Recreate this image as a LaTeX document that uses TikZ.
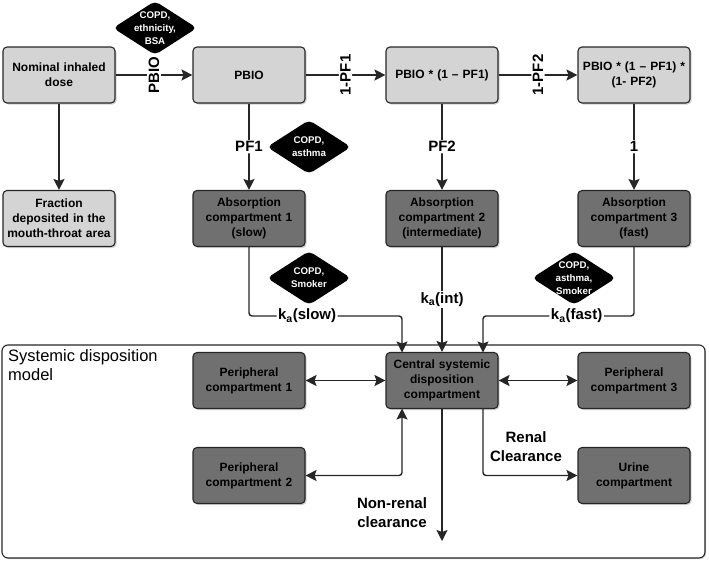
\documentclass[tikz,border=0pt]{standalone}
\usepackage{fontspec}
\setmainfont{Liberation Sans}
\usetikzlibrary{shapes.geometric,arrows.meta,shadows}
\definecolor{lineC}{RGB}{38,38,38}
\definecolor{lightC}{RGB}{212,212,212}
\definecolor{darkC}{RGB}{112,112,112}
\begin{document}
\begin{tikzpicture}[x=1pt,y=-1pt,
  base/.style={draw=lineC, line width=1.1pt, rounded corners=4pt, minimum width=112pt, minimum height=56pt,
    text width=110pt, align=center, inner sep=0pt, font=\bfseries\fontsize{12}{15}\selectfont,
    drop shadow={shadow xshift=1.5pt, shadow yshift=-1.5pt, opacity=0.35}},
  lightbox/.style={base, fill=lightC},
  darkbox/.style={base, fill=darkC},
  diam/.style={diamond, fill=black, rounded corners=5pt, minimum width=84pt, minimum height=54pt, inner sep=0pt},
  difftext/.style={text=white, font=\bfseries\fontsize{9.7}{12.8}\selectfont, align=center},
  conn/.style={draw=lineC, line width=1.4pt, -{Stealth[length=11pt,width=11pt,inset=2pt]}, rounded corners=3pt},
  conn2/.style={draw=lineC, line width=1.4pt, {Stealth[length=11pt,width=11pt,inset=2pt]}-{Stealth[length=11pt,width=11pt,inset=2pt]}, rounded corners=3pt},
  lbl/.style={fill=white, inner sep=1.5pt, font=\bfseries\fontsize{15}{18}\selectfont},
  freetext/.style={font=\bfseries\fontsize{15}{19}\selectfont, align=center},
  sysbox/.style={draw=lineC, line width=1.1pt, rounded corners=6pt, fill=white, minimum width=703pt, minimum height=213pt,
    drop shadow={shadow xshift=1.2pt, shadow yshift=-1.2pt, opacity=0.3}}
]
\useasboundingbox (0,0) rectangle (709,562);

% systemic disposition frame
\node[sysbox] (sys) at (353.5,451.5) {};
\node[anchor=north west, align=left, font=\fontsize{16.5}{19}\selectfont, inner sep=0pt] (systxt) at (8,349) {Systemic disposition\\model};

% top row
\node[lightbox] (nom) at (59,75) {Nominal inhaled\\dose};
\node[lightbox] (pbio) at (249,75) {PBIO};
\node[lightbox] (p1) at (442,75) {PBIO * (1 – PF1)};
\node[lightbox] (p2) at (634,75) {PBIO * (1 – PF1) *\\(1- PF2)};

% second row
\node[lightbox] (frac) at (59,218.5) {Fraction\\deposited in the\\mouth-throat area};
\node[darkbox] (abs1) at (249,218.5) {Absorption\\compartment 1\\(slow)};
\node[darkbox] (abs2) at (442,218.5) {Absorption\\compartment 2\\(intermediate)};
\node[darkbox] (abs3) at (634,218.5) {Absorption\\compartment 3\\(fast)};

% systemic compartments
\node[darkbox] (per1) at (249,380.5) {Peripheral\\compartment 1};
\node[darkbox] (central) at (442,380.5) {Central systemic\\disposition\\compartment};
\node[darkbox] (per3) at (634,380.5) {Peripheral\\compartment 3};
\node[darkbox] (per2) at (249,475.5) {Peripheral\\compartment 2};
\node[darkbox] (urine) at (634,475.5) {Urine\\compartment};

% covariate diamonds
\node[diam, label={[difftext]center:COPD,\\ethnicity,\\BSA}] (d1) at (155,28) {};
\node[diam, label={[difftext]center:COPD,\\asthma}] (d2) at (309,147) {};
\node[diam, label={[difftext]center:COPD,\\Smoker}] (d3) at (309,278) {};
\node[diam, label={[difftext]center:COPD,\\asthma,\\Smoker}] (d4) at (574,278) {};

% coordinates
\coordinate (c1) at (402,352.5);
\coordinate (j1) at (402,316);
\coordinate (c3) at (483,352.5);
\coordinate (j3) at (483,316);
\coordinate (c4) at (402,408.5);
\coordinate (c5) at (483,408.5);
\coordinate (nr) at (442,541);

% connectors
\draw[conn] (nom) -- node[lbl, rotate=90] {PBIO} (pbio);
\draw[conn] (pbio) -- node[lbl, rotate=90] {1-PF1} (p1);
\draw[conn] (p1) -- node[lbl, rotate=90] {1-PF2} (p2);
\draw[conn] (nom) -- (frac);
\draw[conn] (pbio) -- node[lbl] {PF1} (abs1);
\draw[conn] (p1) -- node[lbl] {PF2} (abs2);
\draw[conn] (p2) -- node[lbl] {1} (abs3);

\draw[conn] (abs1.south) |- node[lbl, pos=0.69] {k\textsubscript{a}(slow)} (j1) -- (c1);
\draw[conn] (abs2) -- node[lbl] {k\textsubscript{a}(int)} (central);
\draw[conn] (abs3.south) |- node[lbl, pos=0.69] {k\textsubscript{a}(fast)} (j3) -- (c3);

\draw[conn2] (per1) -- (central);
\draw[conn2] (central) -- (per3);
\draw[conn2] (per2.east) -| (c4);
\draw[conn] (central) -- (nr);
\draw[conn] (c5) |- (urine.west);

\node[freetext] (renal) at (526,447) {Renal\\Clearance};
\node[freetext] (nonrenal) at (392,513) {Non-renal\\clearance};
\end{tikzpicture}
\end{document}
